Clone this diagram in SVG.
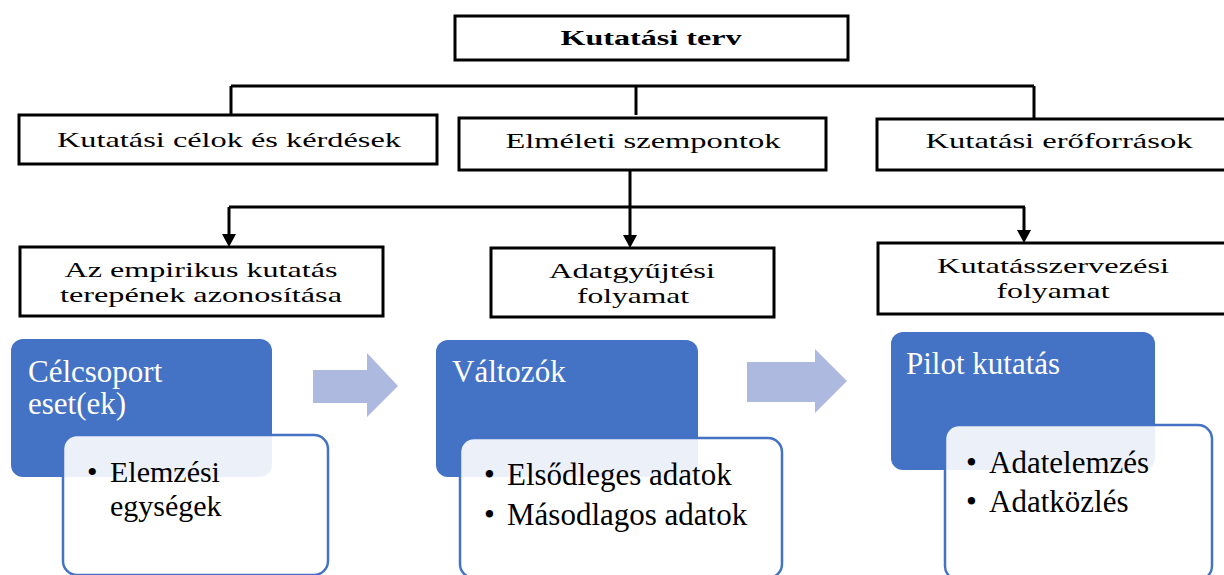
<svg xmlns="http://www.w3.org/2000/svg" width="1224" height="575" viewBox="0 0 1224 575">
  <style>
    .box { fill: #ffffff; stroke: #000000; stroke-width: 3; }
    .lbl { font-family: "Liberation Serif", "Times New Roman", Tinos, serif; font-size: 21px; fill: #000000; text-anchor: middle; }
    .title { font-weight: bold; font-size: 20px; }
    .conn { fill: none; stroke: #000000; stroke-width: 3; }
    .head { fill: #000000; }
    .blue { fill: #4472C4; }
    .card { fill: #ffffff; fill-opacity: 0.9; stroke: #4472C4; stroke-width: 2.5; }
    .bt { font-family: "Liberation Serif", "Times New Roman", Tinos, serif; font-size: 31px; fill: #ffffff; }
    .ct { font-family: "Liberation Serif", "Times New Roman", Tinos, serif; font-size: 31px; fill: #000000; }
    .flow { fill: #ADB9DF; }
  </style>

  <!-- connectors -->
  <g id="connectors">
    <path class="conn" d="M231 86 H1034 M231 86 V115 M636 86 V115 M1034 86 V122"/>
    <path class="conn" d="M630 170 V236 M229 207 H1025 M229 207 V236 M1024 207 V232"/>
    <polygon class="head" points="222,234 236,234 229,247"/>
    <polygon class="head" points="623,235 637,235 630,248"/>
    <polygon class="head" points="1017,230 1031,230 1024,243"/>
  </g>

  <g id="kutatasi-terv">
    <rect class="box" x="455" y="16" width="393" height="44"/>
    <text class="lbl title" x="651" y="45" textLength="181" lengthAdjust="spacingAndGlyphs">Kutatási terv</text>
  </g>

  <g id="celok">
    <rect class="box" x="19" y="115" width="418" height="49"/>
    <text class="lbl" x="229" y="147" textLength="344" lengthAdjust="spacingAndGlyphs">Kutatási célok és kérdések</text>
  </g>

  <g id="elmeleti">
    <rect class="box" x="459" y="118" width="367" height="52"/>
    <text class="lbl" x="643" y="148" textLength="275" lengthAdjust="spacingAndGlyphs">Elméleti szempontok</text>
  </g>

  <g id="eroforrasok">
    <rect class="box" x="877" y="119" width="350" height="51"/>
    <text class="lbl" x="1059" y="148" textLength="267" lengthAdjust="spacingAndGlyphs">Kutatási erőforrások</text>
  </g>

  <g id="terep">
    <rect class="box" x="20" y="247" width="363" height="69"/>
    <text class="lbl"><tspan x="201" y="277" textLength="273" lengthAdjust="spacingAndGlyphs">Az empirikus kutatás</tspan><tspan x="201" y="302" textLength="282" lengthAdjust="spacingAndGlyphs">terepének azonosítása</tspan></text>
  </g>

  <g id="adatgyujtes">
    <rect class="box" x="491" y="248" width="283" height="69"/>
    <text class="lbl"><tspan x="632" y="278" textLength="166" lengthAdjust="spacingAndGlyphs">Adatgyűjtési</tspan><tspan x="633" y="303" textLength="112" lengthAdjust="spacingAndGlyphs">folyamat</tspan></text>
  </g>

  <g id="kutatasszervezes">
    <rect class="box" x="878" y="243" width="349" height="71"/>
    <text class="lbl"><tspan x="1053" y="273" textLength="232" lengthAdjust="spacingAndGlyphs">Kutatásszervezési</tspan><tspan x="1053" y="298" textLength="113" lengthAdjust="spacingAndGlyphs">folyamat</tspan></text>
  </g>

  <!-- process step 1 -->
  <g id="celcsoport">
    <rect class="blue" x="11" y="339" width="261" height="138" rx="12"/>
    <text class="bt"><tspan x="28" y="382">Célcsoport</tspan><tspan x="28" y="414">eset(ek)</tspan></text>
    <rect class="card" x="63" y="435" width="265" height="140" rx="14"/>
    <text class="ct" style="font-size:30px"><tspan x="87" y="482">•</tspan><tspan x="110" y="482">Elemzési</tspan><tspan x="110" y="516">egységek</tspan></text>
  </g>

  <polygon id="flow-1" class="flow" points="313,370 367,370 367,353 398,386 367,417 367,403 313,403"/>

  <!-- process step 2 -->
  <g id="valtozok">
    <rect class="blue" x="436" y="340" width="262" height="137" rx="12"/>
    <text class="bt" x="452" y="382">Változók</text>
    <rect class="card" x="460" y="438" width="322" height="140" rx="14"/>
    <text class="ct"><tspan x="484" y="485">•</tspan><tspan x="507" y="485">Elsődleges adatok</tspan><tspan x="484" y="525">•</tspan><tspan x="507" y="525">Másodlagos adatok</tspan></text>
  </g>

  <polygon id="flow-2" class="flow" points="747,362 815,362 815,349 847,381 815,413 815,402 747,402"/>

  <!-- process step 3 -->
  <g id="pilot">
    <rect class="blue" x="891" y="332" width="264" height="138" rx="12"/>
    <text class="bt" x="906" y="374">Pilot kutatás</text>
    <rect class="card" x="945" y="425" width="267" height="155" rx="14"/>
    <text class="ct"><tspan x="966" y="473">•</tspan><tspan x="989" y="473">Adatelemzés</tspan><tspan x="966" y="512">•</tspan><tspan x="989" y="512">Adatközlés</tspan></text>
  </g>
</svg>
